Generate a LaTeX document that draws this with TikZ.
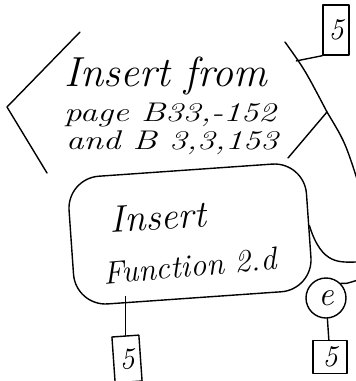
\documentclass[tikz,border=0pt]{standalone}
\usepackage{fontspec}
\usetikzlibrary{positioning}
\begin{document}
\begin{tikzpicture}[x=1pt,y=-1pt,line width=1.4pt,line cap=round,line join=round,
        hand/.style={font=\itshape,inner sep=0pt},
        fivebox/.style={rectangle,draw,inner sep=0pt,font=\itshape\fontsize{30}{30}\selectfont},
        blob/.style={rectangle,draw,rounded corners=32pt,inner sep=0pt,
                     minimum width=238pt,minimum height=128pt},
        conn/.style={circle,draw,inner sep=0pt,minimum size=40pt,
                     font=\itshape\fontsize{34}{34}\selectfont}]
    \useasboundingbox (0,0) rectangle (356,381);

    % open block with the insert note
    \coordinate (hexTL) at (80,32);
    \coordinate (hexL) at (7,107);
    \coordinate (hexBL) at (47,173);
    \coordinate (hexTR) at (285,42);
    \coordinate (hexR) at (327,112);
    \coordinate (hexBR) at (288,158);
    \coordinate (rimEnd) at (358,182);
    \draw (hexTL) -- (hexL) -- (hexBL);
    \draw (hexTR) .. controls (305,70) .. (hexR) .. controls (345,142) .. (rimEnd);
    \draw (hexR) -- (hexBR);
    \path (hexTR) -- (hexR) coordinate[pos=0.27] (hexJct);

    \node[hand,font=\itshape\fontsize{42}{44}\selectfont] (insTitle) at (166,76) {Insert from};
    \node[hand,font=\itshape\fontsize{27}{27}\selectfont,xscale=1.3] (insPage) at (170,115) {page B33,-152};
    \node[hand,font=\itshape\fontsize{27}{27}\selectfont,xscale=1.3] (insAnd) at (172,143) {and B 3,3,153};

    \node[fivebox,minimum width=26pt,minimum height=50pt] (fiveTop) at (336,30) {5};
    \draw (hexJct) -- (fiveTop.south west);

    % inserted function
    \node[blob,rotate=4] (func) at (190,234) {};
    \node[hand,font=\itshape\fontsize{38}{40}\selectfont,rotate=3] (funcA) at (158,217) {Insert};
    \node[hand,font=\itshape\fontsize{32}{34}\selectfont,rotate=5] (funcB) at (190,266) {Function 2.d};

    \node[fivebox,minimum width=27pt,minimum height=46pt,rotate=4] (fiveLeft) at (127,359) {5};
    \draw (fiveLeft.north |- func.south) ++(0,-2) coordinate (funcFoot);
    \draw (funcFoot) -- (fiveLeft.north);

    \coordinate (rimFunc) at (358,262);
    \draw (func.east) .. controls (322,266) and (340,262) .. (rimFunc);

    % off-page connector
    \node[conn] (connE) at (326,298) {e};
    \coordinate (rimConn) at (358,280);
    \draw (connE.north east) .. controls (345,284) .. (rimConn);
    \node[fivebox,minimum width=34pt,minimum height=33pt] (fiveRight) at (330,357) {5};
    \draw (connE) -- (fiveRight);
\end{tikzpicture}
\end{document}
